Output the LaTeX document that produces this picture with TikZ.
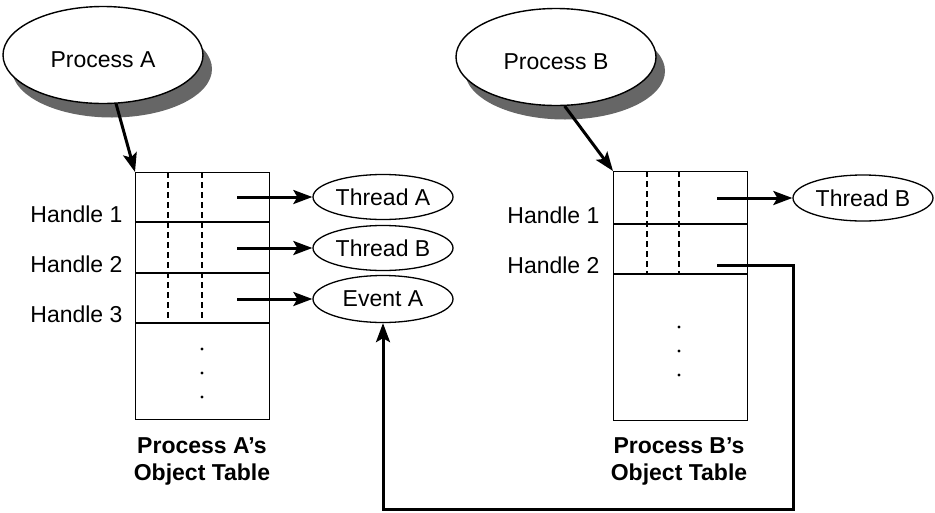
\documentclass[tikz,border=0pt]{standalone}
\usepackage{fontspec}
\setmainfont{Liberation Sans}
\usetikzlibrary{shapes.geometric,shadows,arrows.meta}

\begin{document}
\begin{tikzpicture}[x=1pt, y=-1pt,
        every node/.style={font=\fontsize{23}{27}\selectfont},
        proc/.style={ellipse, draw, line width=1.4pt, fill=white, inner sep=0pt,
            minimum width=200pt, minimum height=97pt, text height=30pt, text depth=5pt,
            drop shadow={shadow xshift=9pt, shadow yshift=-14pt, fill=black!60, opacity=1}},
        obj/.style={ellipse, draw, line width=1.3pt, inner sep=0pt, minimum width=140pt, minimum height=45pt},
        tab/.style={draw, line width=1.3pt, inner sep=0pt, anchor=north west},
        ptr/.style={line width=3pt, -{Stealth[length=19pt, width=14pt, inset=4pt]}},
        caption/.style={align=center, font=\fontsize{23}{27}\selectfont\bfseries}]
        \useasboundingbox (0,0) rectangle (935,512);

        %%%%%%%%%%%%%%%%%%%%%%%%%%%%%% process A
        \node[proc] (procA) at (103,55) {Process A};
        \node[tab, minimum width=134pt, minimum height=247pt] (tabA) at (135,172) {};
        \foreach \y in {222,273,323}
            \draw[line width=1.3pt] (135,\y) -- (269,\y);
        \foreach \x in {168,202}
            \draw[line width=1.3pt, dash pattern=on 6pt off 4pt] (\x,172) -- (\x,323);
        \foreach \y in {349,373,397}
            \fill (202,\y) circle (1.6pt);

        \node[anchor=base east] (hA1) at (126,222) {Handle 1};
        \node[anchor=base east] (hA2) at (126,272) {Handle 2};
        \node[anchor=base east] (hA3) at (126,322) {Handle 3};

        \node[obj] (thA) at (383,197) {Thread A};
        \node[obj] (thB) at (383,248) {Thread B};
        \node[obj, minimum height=47pt] (evA) at (383,299) {Event A};

        \coordinate (a1) at (237,197);
        \coordinate (a2) at (237,248);
        \coordinate (a3) at (237,299);
        \draw[ptr] (a1) -- (thA.west);
        \draw[ptr] (a2) -- (thB.west);
        \draw[ptr] (a3) -- (evA.west);
        \draw[ptr] (procA.-75) -- (tabA.north west);

        \node[caption] (capA) at (202,461) {Process A's\\Object Table};

        %%%%%%%%%%%%%%%%%%%%%%%%%%%%%% process B
        \node[proc] (procB) at (556,57) {Process B};
        \node[tab, minimum width=134pt, minimum height=249pt] (tabB) at (613,171) {};
        \foreach \y in {224,274}
            \draw[line width=1.3pt] (613,\y) -- (747,\y);
        \foreach \x in {647,679}
            \draw[line width=1.3pt, dash pattern=on 6pt off 4pt] (\x,171) -- (\x,274);
        \foreach \y in {327,351,375}
            \fill (679,\y) circle (1.6pt);

        \node[anchor=base east] (hB1) at (603,223) {Handle 1};
        \node[anchor=base east] (hB2) at (603,273) {Handle 2};

        \node[obj, minimum height=46pt] (thB2) at (863,198) {Thread B};

        \coordinate (b1) at (717,198);
        \coordinate (b2) at (717,265);
        \coordinate (bend) at (793,509);
        \draw[ptr] (b1) -- (thB2.west);
        \draw[ptr] (procB.-80) -- (tabB.north west);
        \draw[ptr] (b2) -| (bend) -| (evA.south);

        \node[caption] (capB) at (679,461) {Process B's\\Object Table};
    \end{tikzpicture}
\end{document}
